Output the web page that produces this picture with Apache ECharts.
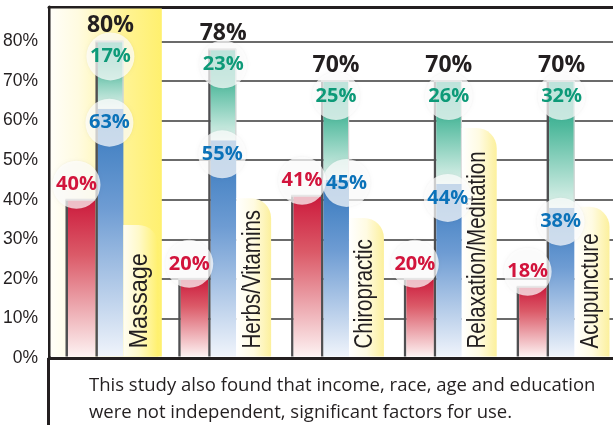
<!DOCTYPE html>
<html><head><meta charset="utf-8">
<script src="https://cdn.jsdelivr.net/npm/echarts@6/dist/echarts.min.js"></script>
<style>html,body{margin:0;padding:0;background:#fff}#chart{width:613px;height:425px}</style>
</head><body><div id="chart"></div>
<script>
const categories = ['Massage', 'Herbs/Vitamins', 'Chiropractic', 'Relaxation/Meditation', 'Acupuncture'];
const redValues = [40, 20, 41, 20, 18];
const blueValues = [63, 55, 45, 44, 38];
const greenValues = [17, 23, 25, 26, 32];
const totalValues = [80, 78, 70, 70, 70];
const labelBarValues = [33.6, 40.4, 35.4, 58.1, 38.2];
const highlighted = [0];
const yTicks = [0, 10, 20, 30, 40, 50, 60, 70, 80];
const footnoteLines = ['This study also found that income, race, age and education', 'were not independent, significant factors for use.'];

const rows = categories.map((c, i) => [i, redValues[i], blueValues[i], greenValues[i], labelBarValues[i], totalValues[i]]);

const LG = (x, y, x2, y2, stops) => new echarts.graphic.LinearGradient(x, y, x2, y2, stops.map((s) => ({ offset: s[0], color: s[1] })));
const ink = '#231f20';
const edge = '#4f4f51';

function geom(api) {
  const i = api.value(0);
  const base = api.coord([i, 0]);
  const k = api.size([1, 0])[0] / 113;
  return { i, c: base[0], y0: base[1] - 1.5, k };
}

function renderBars(params, api) {
  const { i, c, y0, k } = geom(api);
  const red = api.value(1), blue = api.value(2), green = api.value(3), lab = api.value(4);
  const yRed = api.coord([i, red])[1];
  const yBlue = api.coord([i, blue])[1];
  const yTop = api.coord([i, blue + green])[1];
  const yLab = api.coord([i, lab])[1];
  const hi = highlighted.indexOf(i) >= 0;
  const ch = [];
  // red bar
  ch.push({ type: 'rect', shape: { x: c - 40 * k, y: yRed, width: 2.5 * k, height: y0 - yRed }, style: { fill: edge } });
  ch.push({ type: 'rect', shape: { x: c - 37.5 * k, y: yRed, width: 27.5 * k, height: y0 - yRed },
    style: { fill: LG(0, 0, 0, 1, [[0, '#cc1a3c'], [0.35, '#db5a68'], [1, '#fdf2f2']]) } });
  ch.push({ type: 'rect', shape: { x: c - 40 * k, y: yRed - 1, width: 30 * k, height: 2 }, style: { fill: '#b0b0b0' } });
  // stacked bar
  ch.push({ type: 'rect', shape: { x: c - 10 * k, y: yTop, width: 2.5 * k, height: y0 - yTop }, style: { fill: edge } });
  ch.push({ type: 'rect', shape: { x: c - 7.5 * k, y: yBlue, width: 25.5 * k, height: y0 - yBlue },
    style: { fill: LG(0, 0, 0, 1, [[0, '#3377bd'], [0.4, '#6e9cd3'], [1, '#f0f4fb']]) } });
  ch.push({ type: 'rect', shape: { x: c - 7.5 * k, y: yTop, width: 25.5 * k, height: yBlue - yTop },
    style: { fill: LG(0, 0, 0, 1, [[0, '#12a383'], [0.35, '#4db89b'], [1, '#e2f3ed']]) } });
  ch.push({ type: 'rect', shape: { x: c - 10 * k, y: yTop - 1, width: 28 * k, height: 2 }, style: { fill: '#b0b0b0' } });
  ch.push({ type: 'rect', shape: { x: c + 17 * k, y: yTop, width: 1.2, height: yBlue - yTop }, style: { fill: '#d4d4d4' } });
  // category label bar
  ch.push({ type: 'rect', shape: { x: c + 18 * k, y: yLab, width: 35 * k, height: y0 - yLab, r: [0, 20, 0, 0] },
    style: { fill: hi ? LG(0, 0, 1, 0, [[0, '#fffdf2'], [0.45, '#fff9c8'], [1, '#fff06c']])
                      : LG(0, 0, 1, 0, [[0, '#ffffff'], [0.5, '#fffbe2'], [1, '#fcf09c']]) } });
  ch.push({ type: 'text', x: c + 47 * k, y: y0 - 8, rotation: Math.PI / 2, scaleX: hi ? 0.94 : 0.82,
    style: { text: categories[i], font: '25px "Liberation Sans", Arial, sans-serif', fill: ink, align: 'left', verticalAlign: 'bottom' } });
  return { type: 'group', children: ch };
}

function bubble(x, y, text, color, size) {
  return [
    { type: 'circle', shape: { cx: x, cy: y, r: 24 }, style: { fill: 'rgba(255,255,255,0.72)', shadowBlur: 3, shadowColor: 'rgba(0,0,0,0.08)' } },
    { type: 'text', x: x, y: y, style: { text: text, font: 'bold ' + size + 'px "Open Sans", sans-serif', fill: color, align: 'center', verticalAlign: 'middle' } }
  ];
}

function renderLabels(params, api) {
  const { i, c, k } = geom(api);
  const red = api.value(1), blue = api.value(2), green = api.value(3), total = api.value(5);
  const yRed = api.coord([i, red])[1];
  const yBlue = api.coord([i, blue])[1];
  const yTop = api.coord([i, blue + green])[1];
  let ch = [];
  const rx = c - 29 * k, ry = yRed - 15;
  let bx = c + 4 * k, by = yBlue + 14;
  if (Math.abs(ry - by) < 20) { bx = c + 15.5 * k; by = yBlue + 3; }
  ch = ch.concat(bubble(c + 5 * k, yTop + 15, green + '%', '#0d9a78', 20));
  ch = ch.concat(bubble(bx, by, blue + '%', '#0b72b9', 20));
  ch = ch.concat(bubble(rx, ry, red + '%', '#d2143c', 20));
  ch.push({ type: 'text', x: c + 5 * k, y: yTop - 16, style: { text: total + '%', font: 'bold 23px "Open Sans", sans-serif', fill: ink, align: 'center', verticalAlign: 'middle' } });
  return { type: 'group', children: ch };
}

function renderPanel(params, api) {
  const i = api.value(0);
  const bw = api.size([1, 0])[0];
  const cx = api.coord([i, 0])[0];
  const cs = params.coordSys;
  return { type: 'rect', shape: { x: cx - bw / 2 + 1.5, y: cs.y + 1.5, width: bw - 1.5, height: cs.height - 3 },
    style: { fill: LG(0, 0, 1, 0, [[0, '#fffef8'], [0.25, '#fffbe0'], [0.7, '#fff390'], [1, '#fff06e']]) } };
}

const chart = echarts.init(document.getElementById('chart'), null, { renderer: 'canvas' });
chart.setOption({
  animation: false,
  backgroundColor: '#ffffff',
  title: { text: footnoteLines.join('\n'), left: 84, top: 367,
    textStyle: { fontFamily: '"Open Sans", sans-serif', fontSize: 18.5, fontWeight: 'normal', color: ink, lineHeight: 27 } },
  grid: { left: 49, top: 7, width: 565, height: 351 },
  xAxis: [
    { type: 'category', data: categories, position: 'bottom', axisLine: { lineStyle: { color: ink, width: 3 } }, axisTick: { show: false }, axisLabel: { show: false } },
    { type: 'category', data: categories, position: 'top', axisLine: { lineStyle: { color: ink, width: 3 } }, axisTick: { show: false }, axisLabel: { show: false } }
  ],
  yAxis: {
    type: 'value', min: 0, max: 88.7, interval: 10,
    axisLine: { show: true, lineStyle: { color: ink, width: 3 } },
    axisTick: { show: false },
    splitLine: { lineStyle: { color: '#3a3a3a', width: 1.6 } },
    axisLabel: { margin: 11, showMaxLabel: false, color: ink, fontFamily: '"Liberation Sans", Arial, sans-serif', fontSize: 17.5,
      formatter: (v) => (yTicks.indexOf(v) >= 0 ? v + '%' : '') }
  },
  graphic: [{ type: 'line', shape: { x1: 48.5, y1: 358, x2: 48.5, y2: 425 }, style: { stroke: ink, lineWidth: 3 } }],
  series: [
    { type: 'custom', name: 'panel', z: 1, data: highlighted.map((h) => [h]), renderItem: renderPanel },
    { type: 'custom', name: 'bars', z: 2, data: rows, renderItem: renderBars },
    { type: 'custom', name: 'labels', z: 3, data: rows, renderItem: renderLabels }
  ]
});
</script>
</body></html>
